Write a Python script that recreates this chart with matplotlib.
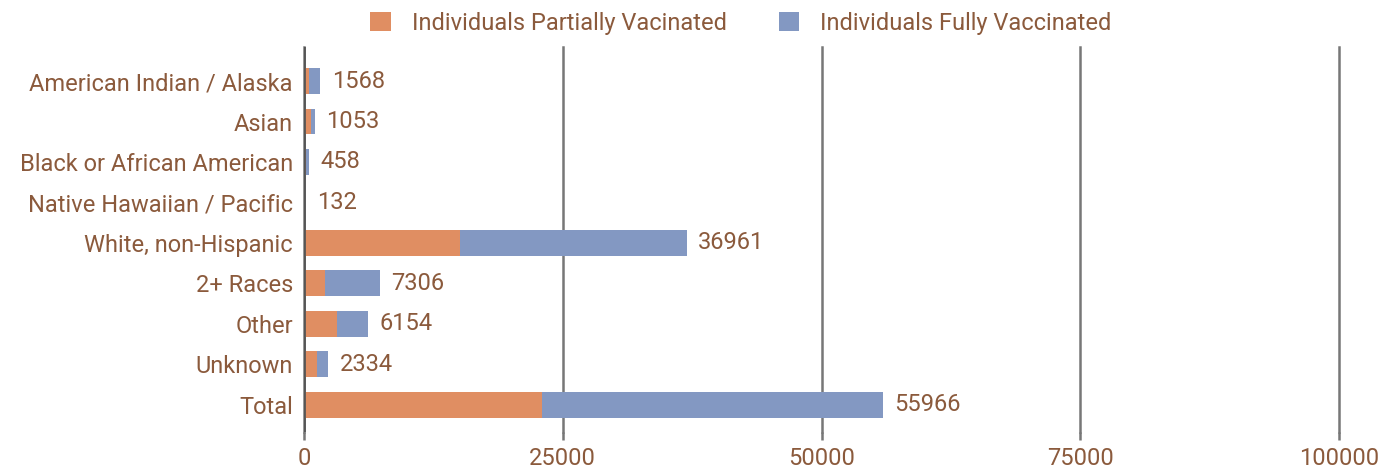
import matplotlib
matplotlib.use("Agg")
import matplotlib.pyplot as plt
from matplotlib.patches import Patch

categories = ["American Indian / Alaska", "Asian", "Black or African American",
              "Native Hawaiian / Pacific", "White, non-Hispanic", "2+ Races",
              "Other", "Unknown", "Total"]
partial = [450, 660, 240, 60, 15100, 2000, 3150, 1250, 23000]
totals = [1568, 1053, 458, 132, 36961, 7306, 6154, 2334, 55966]
fully = [t - p for t, p in zip(totals, partial)]
xticks = [0, 25000, 50000, 75000, 100000]

orange = "#E08E62"
blue = "#8398C2"
text_col = "#8B5A3C"
grid_col = "#777777"

plt.rcParams['font.family'] = ['Roboto', 'DejaVu Sans']

fig = plt.figure(figsize=(13.85, 4.72), dpi=100)
ax = fig.add_axes([0.2195, 0.0847, 0.7473, 0.8157])

y = list(range(len(categories)))
ax.barh(y, partial, height=0.64, color=orange, zorder=3)
ax.barh(y, fully, left=partial, height=0.64, color=blue, zorder=3)

for yi, t in zip(y, totals):
    ax.text(t + 1100, yi, str(t), va="center", ha="left",
            fontsize=17, color=text_col)

ax.set_xlim(0, 100000)
ax.set_ylim(8.67, -0.84)
ax.set_yticks(y)
ax.set_yticklabels(categories)
ax.set_xticks(xticks)
ax.set_xticklabels([str(v) for v in xticks])

ax.grid(axis="x", color=grid_col, linewidth=1.8, zorder=0)
for gl in ax.get_xgridlines():
    gl.set_clip_on(False)
for s in ax.spines.values():
    s.set_visible(False)
ax.axvline(0, color="#555555", linewidth=2, zorder=4)

ax.tick_params(axis="y", length=0, pad=8, labelsize=17, labelcolor=text_col)
ax.tick_params(axis="x", length=6, width=1.8, color=grid_col, pad=5,
               labelsize=17, labelcolor=text_col)

handles = [Patch(facecolor=orange, label="Individuals Partially Vacinated"),
           Patch(facecolor=blue, label="Individuals Fully Vaccinated")]
leg = fig.legend(handles=handles, loc="upper center", ncol=2,
                 bbox_to_anchor=(0.535, 1.02), frameon=False,
                 fontsize=17, handlelength=0.85, handleheight=0.85,
                 columnspacing=2.2, handletextpad=0.9)
for t in leg.get_texts():
    t.set_color(text_col)

fig.savefig("out.png", dpi=100)
